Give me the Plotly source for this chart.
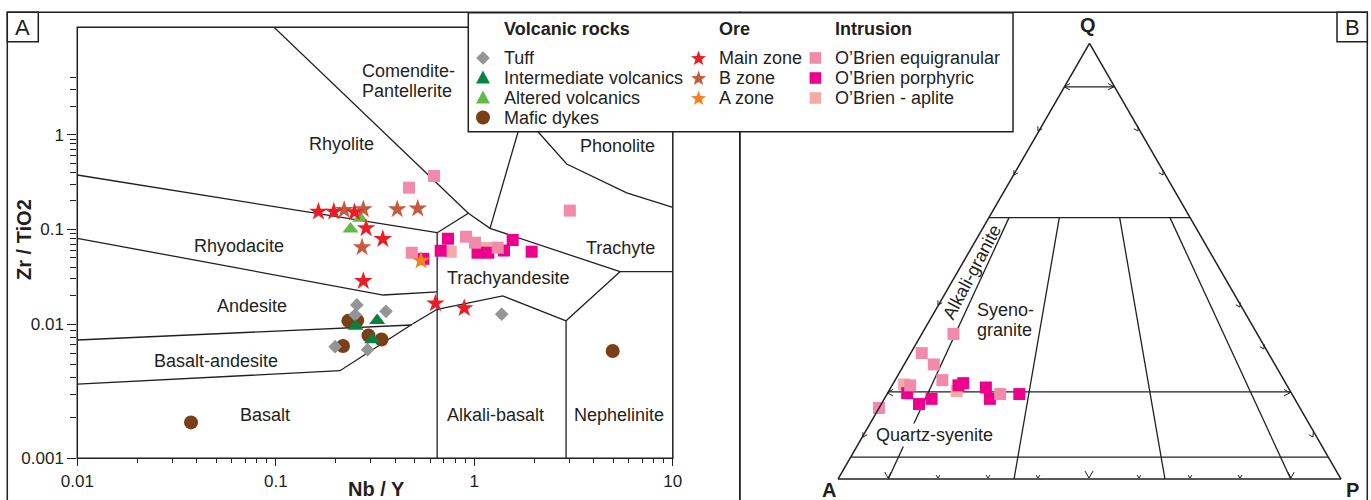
import math
import plotly.graph_objects as go

W, H = 1371, 500
INK = "#231F20"
FONT = "Liberation Sans, Arial, sans-serif"

# ---------------- Panel A data: Nb/Y vs Zr/TiO2 ----------------
tuff_nby = [0.256, 0.251, 0.359, 0.199, 0.290, 1.374]
tuff_zrti = [0.0159, 0.0125, 0.0136, 0.00678, 0.00644, 0.0127]
inter_nby = [0.252, 0.324, 0.306]
inter_zrti = [0.00961, 0.0109, 0.00764]
alter_nby = [0.238, 0.266]
alter_zrti = [0.101, 0.131]
mafic_nby = [0.232, 0.257, 0.293, 0.341, 0.218, 0.0374, 4.98]
mafic_zrti = [0.0108, 0.0109, 0.00821, 0.00767, 0.00686, 0.00185, 0.00629]
main_nby = [0.164, 0.196, 0.249, 0.285, 0.346, 0.276, 0.637, 0.890]
main_zrti = [0.154, 0.154, 0.152, 0.103, 0.0791, 0.0285, 0.0165, 0.0147]
bzone_nby = [0.221, 0.276, 0.409, 0.519, 0.272]
bzone_zrti = [0.160, 0.163, 0.163, 0.166, 0.0647]
azone_nby = [0.539]
azone_zrti = [0.0467]
equi_nby = [0.627, 0.469, 3.03, 0.908, 1.008, 1.312, 0.484]
equi_zrti = [0.367, 0.276, 0.158, 0.0837, 0.0724, 0.0641, 0.0567]
porph_nby = [0.737, 0.677, 1.561, 1.411, 1.038, 1.176, 1.946, 0.554]
porph_zrti = [0.0797, 0.0595, 0.0773, 0.0598, 0.0567, 0.0567, 0.0581, 0.0489]
aplite_nby = [0.761, 1.146]
aplite_zrti = [0.0581, 0.0636]

# ---------------- Panel A field boundaries (Winchester & Floyd) ----------------
comendite_rhyolite_x = [0.098, 0.933]
comendite_rhyolite_y = [13.7, 0.148]
rhyolite_rhyodacite_x = [0.01, 0.65]
rhyolite_rhyodacite_y = [0.376, 0.0923]
trachyandesite_top_x = [0.65, 0.933, 1.2, 5.42]
trachyandesite_top_y = [0.0923, 0.148, 0.1027, 0.0357]
comendite_trachyte_x = [1.2, 1.666]
comendite_trachyte_y = [0.1027, 1.097]
phonolite_base_x = [2.077, 2.92, 5.86, 10.0]
phonolite_base_y = [1.097, 0.491, 0.244, 0.171]
trachyte_nephelinite_x = [5.42, 10.0]
trachyte_nephelinite_y = [0.0357, 0.0357]
trachyandesite_nephelinite_x = [5.42, 2.9]
trachyandesite_nephelinite_y = [0.0357, 0.0108]
alkalibasalt_nephelinite_x = [2.9, 2.9, 2.9]
alkalibasalt_nephelinite_y = [0.0108, 0.01, 0.001]
trachyandesite_alkalibasalt_x = [2.9, 1.39, 0.65]
trachyandesite_alkalibasalt_y = [0.0108, 0.0198, 0.0143]
basalt_top_x = [0.65, 0.488, 0.2105, 0.01]
basalt_top_y = [0.0143, 0.01, 0.00449, 0.00357]
andesite_basaltandesite_x = [0.01, 0.483]
andesite_basaltandesite_y = [0.0076, 0.00983]
rhyodacite_andesite_x = [0.01, 0.348, 0.65]
rhyodacite_andesite_y = [0.0805, 0.02025, 0.0219]
subalkaline_alkaline_x = [0.65, 0.65, 0.65]
subalkaline_alkaline_y = [0.0923, 0.01, 0.001]

X_TICKS = [0.01, 0.1, 1, 10]
X_TICK_TEXT = ["0.01", "0.1", "1", "10"]
X_MINOR = [0.02, 0.03, 0.04, 0.05, 0.06, 0.07, 0.08, 0.09,
           0.2, 0.3, 0.4, 0.5, 0.6, 0.7, 0.8, 0.9,
           2, 3, 4, 5, 6, 7, 8, 9]
Y_UP_TICKS = [0.01, 0.1, 1]
Y_UP_TICK_TEXT = ["0.01", "0.1", "1"]
Y_UP_MINOR = [0.02, 0.03, 0.04, 0.05, 0.06, 0.07, 0.08, 0.09,
              0.2, 0.3, 0.4, 0.5, 0.6, 0.7, 0.8, 0.9, 2, 3, 4]
Y_LO_TICKS = [0.001]
Y_LO_TICK_TEXT = ["0.001"]
Y_LO_MINOR = [0.002, 0.003, 0.004, 0.005, 0.006, 0.007, 0.008, 0.009]
Y_SPLIT = 0.01      # the drawn figure uses a taller decade below 0.01

# ---------------- Panel B data: QAPF (Q, A, P in %) ----------------
equi_Q = [33.3, 28.9, 26.3, 22.7, 21.5, 19.5, 16.3]
equi_A = [60.4, 68.9, 67.8, 67.9, 74.9, 58.0, 83.7]
equi_P = [6.3, 2.2, 5.9, 9.4, 3.6, 22.5, 0.0]
porph_Q = [19.7, 17.2, 18.4, 21.5, 22.0, 21.0, 18.4, 19.5]
porph_A = [76.4, 75.3, 72.2, 65.3, 64.1, 60.1, 60.6, 54.2]
porph_P = [3.9, 7.5, 9.4, 13.2, 13.9, 18.9, 21.0, 26.3]
aplite_Q = [20.2, 21.7]
aplite_A = [66.3, 76.0]
aplite_P = [13.5, 2.3]

QAPF_Q_LEVELS = [90, 60, 20, 5]
QAPF_P_RATIOS = [10, 35, 65, 90]   # P/(A+P) %, drawn from Q=60 to the A-P edge

# ---------------- styles ----------------
C_TUFF = "#939598"
C_INTER = "#0B8140"
C_ALTER = "#62BB46"
C_MAFIC = "#7B3F17"
C_MAIN = "#ED1C24"
C_BZONE = "#C65A3E"
C_AZONE = "#F58220"
C_EQUI = "#F28BAA"
C_PORPH = "#EC008C"
C_APLITE = "#F7A9A8"


def px_x(px):
    return px / W


def px_y(py):
    return 1 - py / H


fig = go.Figure()


def split_pts(xs, ys):
    up = [(x, y) for x, y in zip(xs, ys) if y >= Y_SPLIT]
    lo = [(x, y) for x, y in zip(xs, ys) if y <= Y_SPLIT]
    return up, lo


def add_line(xs, ys):
    up, lo = split_pts(xs, ys)
    for pts, ya in ((up, "y"), (lo, "y2")):
        if len(pts) >= 2:
            fig.add_trace(go.Scatter(
                x=[p[0] for p in pts], y=[p[1] for p in pts], xaxis="x", yaxis=ya,
                mode="lines", line=dict(color=INK, width=1.3),
                hoverinfo="skip", showlegend=False, cliponaxis=False))


for bx, by in [
    (comendite_rhyolite_x, comendite_rhyolite_y),
    (rhyolite_rhyodacite_x, rhyolite_rhyodacite_y),
    (trachyandesite_top_x, trachyandesite_top_y),
    (comendite_trachyte_x, comendite_trachyte_y),
    (phonolite_base_x, phonolite_base_y),
    (trachyte_nephelinite_x, trachyte_nephelinite_y),
    (trachyandesite_nephelinite_x, trachyandesite_nephelinite_y),
    (alkalibasalt_nephelinite_x, alkalibasalt_nephelinite_y),
    (trachyandesite_alkalibasalt_x, trachyandesite_alkalibasalt_y),
    (basalt_top_x, basalt_top_y),
    (andesite_basaltandesite_x, andesite_basaltandesite_y),
    (rhyodacite_andesite_x, rhyodacite_andesite_y),
    (subalkaline_alkaline_x, subalkaline_alkaline_y),
]:
    add_line(bx, by)


def add_points(name, xs, ys, symbol, size, color):
    up = [(x, y) for x, y in zip(xs, ys) if y >= Y_SPLIT]
    lo = [(x, y) for x, y in zip(xs, ys) if y < Y_SPLIT]
    for pts, ya in ((up, "y"), (lo, "y2")):
        if pts:
            fig.add_trace(go.Scatter(
                x=[p[0] for p in pts], y=[p[1] for p in pts], xaxis="x", yaxis=ya,
                mode="markers", name=name, showlegend=False, cliponaxis=False,
                marker=dict(symbol=symbol, size=size, color=color, line=dict(width=0))))


add_points("Mafic dykes", mafic_nby, mafic_zrti, "circle", 14, C_MAFIC)
add_points("Tuff", tuff_nby, tuff_zrti, "diamond", 10.5, C_TUFF)
add_points("Intermediate volcanics", inter_nby, inter_zrti, "triangle-up", 14, C_INTER)
add_points("Altered volcanics", alter_nby, alter_zrti, "triangle-up", 14, C_ALTER)
add_points("O'Brien - aplite", aplite_nby, aplite_zrti, "square", 12, C_APLITE)
add_points("O'Brien porphyric", porph_nby, porph_zrti, "square", 12, C_PORPH)
add_points("O'Brien equigranular", equi_nby, equi_zrti, "square", 12, C_EQUI)
add_points("B zone", bzone_nby, bzone_zrti, "star", 14, C_BZONE)
add_points("Main zone", main_nby, main_zrti, "star", 14, C_MAIN)
add_points("A zone", azone_nby, azone_zrti, "star", 14, C_AZONE)

# ---------------- Panel B: QAPF ternary ----------------
for L in QAPF_Q_LEVELS:
    fig.add_trace(go.Scatterternary(
        a=[L, L], b=[100 - L, 0], c=[0, 100 - L], mode="lines",
        line=dict(color=INK, width=1.3), hoverinfo="skip", showlegend=False))
for r in QAPF_P_RATIOS:
    fig.add_trace(go.Scatterternary(
        a=[60, 0], b=[40 * (100 - r) / 100, 100 - r], c=[40 * r / 100, r], mode="lines",
        line=dict(color=INK, width=1.3), hoverinfo="skip", showlegend=False))

for q, a, p, color in [(aplite_Q, aplite_A, aplite_P, C_APLITE),
                       (porph_Q, porph_A, porph_P, C_PORPH),
                       (equi_Q, equi_A, equi_P, C_EQUI)]:
    fig.add_trace(go.Scatterternary(
        a=q, b=a, c=p, mode="markers", showlegend=False, cliponaxis=False,
        marker=dict(symbol="square", size=12, color=color, line=dict(width=0))))

ax_common = dict(showticklabels=False, ticks="", showgrid=False, linecolor=INK,
                 linewidth=1.5, title=dict(text=""), min=0)

# ---------------- shapes ----------------
shapes = []


def rect(x0, y0, x1, y1, fill=None, layer="below", lw=1.5):
    d = dict(type="rect", xref="paper", yref="paper", x0=px_x(x0), x1=px_x(x1),
             y0=px_y(y1), y1=px_y(y0), line=dict(color=INK, width=lw), layer=layer)
    if fill:
        d["fillcolor"] = fill
    shapes.append(d)


rect(7.3, 12.3, 739.8, 520)            # panel A frame
rect(739.8, 12.3, 1367.3, 520)         # panel B frame
rect(77.3, 27.3, 672.8, 458.3)         # plot area A
rect(7.3, 12.3, 38.3, 41.7, fill="white", layer="above")
rect(1337, 12.3, 1367.3, 41.7, fill="white", layer="above")
rect(468.3, 12.7, 1013, 131.7, fill="white", layer="above")   # legend box


def to_path(pts, close=True):
    s = "M" + " L".join(f"{px_x(x):.6f},{px_y(y):.6f}" for x, y in pts)
    return s + (" Z" if close else "")


def sym_shape(kind, cx, cy, color):
    if kind == "square":
        h = 5.8
        shapes.append(dict(type="rect", xref="paper", yref="paper",
                           x0=px_x(cx - h), x1=px_x(cx + h), y0=px_y(cy + h), y1=px_y(cy - h),
                           fillcolor=color, line=dict(width=0), layer="above"))
        return
    if kind == "circle":
        r = 7
        shapes.append(dict(type="circle", xref="paper", yref="paper",
                           x0=px_x(cx - r), x1=px_x(cx + r), y0=px_y(cy + r), y1=px_y(cy - r),
                           fillcolor=color, line=dict(width=0), layer="above"))
        return
    if kind == "diamond":
        r = 6.8
        pts = [(cx, cy - r), (cx + r, cy), (cx, cy + r), (cx - r, cy)]
    elif kind == "triangle":
        pts = [(cx, cy - 7.5), (cx + 7, cy + 5.5), (cx - 7, cy + 5.5)]
    else:  # star
        R, ri = 8, 3.3
        pts = []
        for k in range(10):
            ang = -math.pi / 2 + k * math.pi / 5
            rr = R if k % 2 == 0 else ri
            pts.append((cx + rr * math.cos(ang), cy + 0.6 + rr * math.sin(ang)))
    shapes.append(dict(type="path", xref="paper", yref="paper", path=to_path(pts),
                       fillcolor=color, line=dict(width=0), layer="above"))


# small chevron marks of the QAPF template (decoration)
def chevron(tx, ty, dx, dy, length=5.0, half=3.0):
    nx, ny = -dy, dx
    bx, by = tx - length * dx, ty - length * dy
    pts = [(bx + half * nx, by + half * ny), (tx, ty), (bx - half * nx, by - half * ny)]
    shapes.append(dict(type="path", xref="paper", yref="paper", path=to_path(pts, close=False),
                       line=dict(color=INK, width=1), layer="above"))


LEFT_DIR = (-0.498, 0.867)
RIGHT_DIR = (0.498, 0.867)
for tx, ty, d in [(1064, 86.7, (-1, 0)), (1114, 86.7, (1, 0)),
                  (887, 392.7, (-1, 0)), (1290, 392.7, (1, 0)),
                  (888, 478, (0, 1)), (1291, 478, (0, 1))]:
    chevron(tx, ty, d[0], d[1], 6, 3.2)
for tx, ty in [(1038, 131), (1014, 175), (938, 305), (863, 437)]:
    chevron(tx, ty, LEFT_DIR[0], LEFT_DIR[1], 4, 2.5)
for tx, ty in [(1138, 131), (1163, 175), (1240, 307), (1264, 349), (1313, 437)]:
    chevron(tx, ty, RIGHT_DIR[0], RIGHT_DIR[1], 4, 2.5)
for tx in [938, 988, 1038, 1139, 1190, 1240]:
    chevron(tx, 478, 0, 1, 3, 2)
chevron(1089, 478, 0, 1, 7, 4)

# ---------------- annotations ----------------
ann = []


def txt(text, x, y, size=18, xanchor="center", bold=False, angle=0, family=FONT,
        color=INK, bg=None):
    d = dict(text=f"<b>{text}</b>" if bold else text, x=px_x(x), y=px_y(y),
             xref="paper", yref="paper", showarrow=False, xanchor=xanchor,
             yanchor="middle", textangle=angle,
             font=dict(size=size, family=family, color=color))
    if bg:
        d["bgcolor"] = bg
        d["borderpad"] = 1
    ann.append(d)


txt("Comendite-", 360, 71, xanchor="left")
txt("Pantellerite", 360, 91, xanchor="left")
txt("Rhyolite", 341.7, 144)
txt("Rhyodacite", 239, 246)
txt("Andesite", 252, 306)
txt("Basalt-andesite", 216, 361)
txt("Basalt", 264.5, 415)
txt("Trachyandesite", 508, 278)
txt("Trachyte", 620.5, 248)
txt("Phonolite", 617, 146)
txt("Alkali-basalt", 495.5, 415)
txt("Nephelinite", 619, 415)
txt("Zr / TiO2", 24, 240, size=20, bold=True, angle=-90)
txt("Nb / Y", 376, 489, size=20, bold=True)
txt("A", 22.8, 27.3, size=22)
txt("B", 1352, 27.3, size=22)

# legend
txt("Volcanic rocks", 502, 29, xanchor="left", bold=True)
txt("Ore", 717, 29, xanchor="left", bold=True)
txt("Intrusion", 833, 29, xanchor="left", bold=True)
legend_rows = [58, 78, 98, 117.5]
for label, kind, color, row in [
    ("Tuff", "diamond", C_TUFF, 0),
    ("Intermediate volcanics", "triangle", C_INTER, 1),
    ("Altered volcanics", "triangle", C_ALTER, 2),
    ("Mafic dykes", "circle", C_MAFIC, 3),
]:
    sym_shape(kind, 483, legend_rows[row], color)
    txt(label, 502, legend_rows[row], xanchor="left")
for label, color, row in [("Main zone", C_MAIN, 0), ("B zone", C_BZONE, 1), ("A zone", C_AZONE, 2)]:
    sym_shape("star", 698.6, legend_rows[row], color)
    txt(label, 717, legend_rows[row], xanchor="left")
for label, color, row in [("O\u2019Brien equigranular", C_EQUI, 0),
                          ("O\u2019Brien porphyric", C_PORPH, 1),
                          ("O\u2019Brien - aplite", C_APLITE, 2)]:
    sym_shape("square", 815.4, legend_rows[row], color)
    txt(label, 833, legend_rows[row], xanchor="left")

# panel B labels
txt("Q", 1088, 25, size=20, bold=True)
txt("A", 829, 490, size=20, bold=True)
txt("P", 1352, 490, size=20, bold=True)
txt("Syeno-", 975, 310, xanchor="left")
txt("granite", 975, 330, xanchor="left")
txt("Quartz-syenite", 935, 435, bg="white")
txt("Alkali-granite", 972, 272, angle=-62)

fig.update_layout(
    width=W, height=H, margin=dict(l=0, r=0, t=0, b=0, autoexpand=False),
    paper_bgcolor="white", plot_bgcolor="rgba(0,0,0,0)",
    font=dict(family=FONT, color=INK, size=17),
    showlegend=False,
    xaxis=dict(type="log", range=[-2, 1], domain=[px_x(77.3), px_x(672.8)], anchor="y2",
               automargin=False, showline=False, showgrid=False, zeroline=False,
               tickmode="array", tickvals=X_TICKS, ticktext=X_TICK_TEXT,
               ticks="outside", ticklen=7, tickwidth=1.3, tickcolor=INK,
               minor=dict(tickmode="array", tickvals=X_MINOR, ticks="outside", ticklen=4,
                          tickwidth=1.1, tickcolor=INK, showgrid=False),
               tickfont=dict(size=17, color=INK)),
    yaxis=dict(type="log", range=[-2, 1.1367], domain=[px_y(324), px_y(27.3)], anchor="x",
               automargin=False, showline=False, showgrid=False, zeroline=False,
               tickmode="array", tickvals=Y_UP_TICKS, ticktext=Y_UP_TICK_TEXT,
               ticks="outside", ticklen=9, tickwidth=1.3, tickcolor=INK,
               minor=dict(tickmode="array", tickvals=Y_UP_MINOR, ticks="outside", ticklen=6,
                          tickwidth=1.1, tickcolor=INK, showgrid=False),
               tickfont=dict(size=17, color=INK)),
    yaxis2=dict(type="log", range=[-3, -2], domain=[px_y(458.3), px_y(324)], anchor="x",
                automargin=False, showline=False, showgrid=False, zeroline=False,
                tickmode="array", tickvals=Y_LO_TICKS, ticktext=Y_LO_TICK_TEXT,
                ticks="outside", ticklen=9, tickwidth=1.3, tickcolor=INK,
                minor=dict(tickmode="array", tickvals=Y_LO_MINOR, ticks="outside", ticklen=6,
                           tickwidth=1.1, tickcolor=INK, showgrid=False),
                tickfont=dict(size=17, color=INK)),
    ternary=dict(domain=dict(x=[px_x(838), px_x(1341)], y=[px_y(479), px_y(43.4)]),
                 sum=100, bgcolor="rgba(0,0,0,0)",
                 aaxis=ax_common, baxis=ax_common, caxis=ax_common),
    shapes=shapes, annotations=ann,
)

fig.write_html("out.html")
